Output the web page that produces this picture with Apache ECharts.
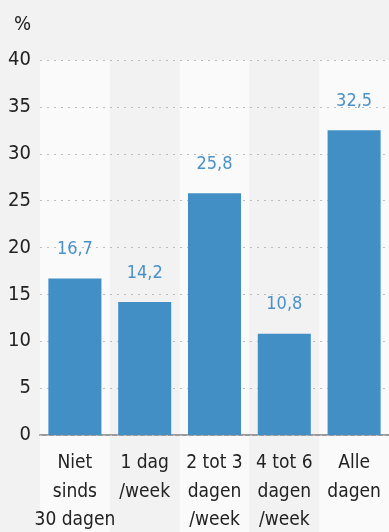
<!DOCTYPE html>
<html>
<head>
<meta charset="utf-8">
<script src="https://cdn.jsdelivr.net/npm/echarts@6/dist/echarts.min.js"></script>
<style>
html,body{margin:0;padding:0;background:#f2f2f2;}
#c{width:389px;height:532px;}
</style>
</head>
<body>
<div id="c"></div>
<script>
const categories = ['Niet\nsinds\n30 dagen', '1 dag\n/week', '2 tot 3\ndagen\n/week', '4 tot 6\ndagen\n/week', 'Alle\ndagen'];
const values = [16.7, 14.2, 25.8, 10.8, 32.5];
const yTicks = [0, 5, 10, 15, 20, 25, 30, 35, 40];
const unitLabel = '%';

const FONT = 'DejaVu Sans Condensed';
const chart = echarts.init(document.getElementById('c'));
chart.setOption({
  backgroundColor: '#f2f2f2',
  animation: false,
  title: {
    text: unitLabel, left: 9, top: 10, padding: 5,
    textStyle: {fontFamily: FONT, fontSize: 20, fontWeight: 'normal', color: '#222'}
  },
  grid: [
    {left: 40, right: 0, top: 60, bottom: 97, containLabel: false, outerBoundsMode: 'none'},
    {left: 40, right: 0, top: 435, bottom: 0, containLabel: false, outerBoundsMode: 'none'}
  ],
  xAxis: [
    {
      type: 'category', data: categories, gridIndex: 0,
      axisTick: {show: false},
      axisLine: {show: true, lineStyle: {color: '#9a9a9a', width: 2}},
      splitArea: {show: true, areaStyle: {color: ['#fafafa', '#f2f2f2']}},
      axisLabel: {
        interval: 0, margin: 14, color: '#222',
        fontFamily: FONT, fontSize: 19, lineHeight: 28.5
      },
      z: 0
    },
    {
      type: 'category', data: categories, gridIndex: 1,
      axisTick: {show: false}, axisLine: {show: false}, axisLabel: {show: false},
      splitArea: {show: true, areaStyle: {color: ['#fafafa', '#f2f2f2']}},
      z: 0
    }
  ],
  yAxis: [
    {
      type: 'value', gridIndex: 0, min: yTicks[0], max: yTicks[yTicks.length - 1], interval: 5,
      axisLine: {show: false}, axisTick: {show: false},
      axisLabel: {color: '#222', fontFamily: FONT, fontSize: 20, margin: 9},
      splitLine: {show: true, lineStyle: {color: '#bdbdbd', type: [2, 5], width: 1}},
      z: 1
    },
    {type: 'value', gridIndex: 1, show: false, splitLine: {show: false}}
  ],
  series: [{
    type: 'bar', data: values, xAxisIndex: 0, yAxisIndex: 0,
    barCategoryGap: '24%',
    itemStyle: {color: '#428fc6'},
    z: 2,
    label: {
      show: true, position: 'top', distance: 20,
      color: '#4b91c9', fontFamily: FONT, fontSize: 18,
      formatter: p => String(p.value).replace('.', ',')
    }
  }]
});
</script>
</body>
</html>
